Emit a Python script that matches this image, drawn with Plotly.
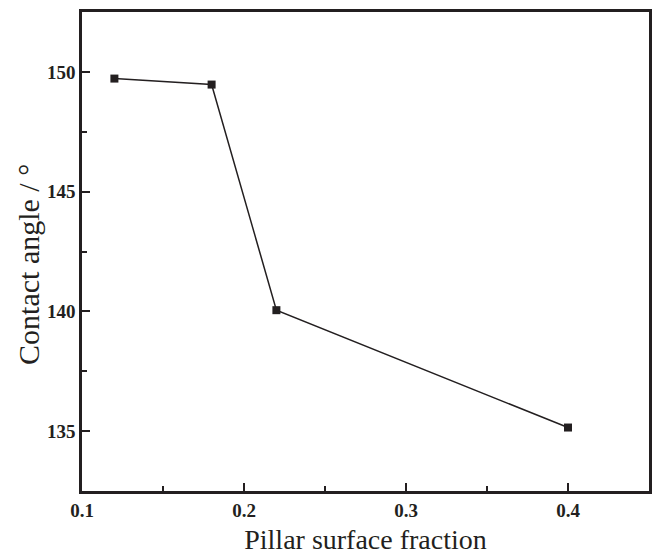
import plotly.graph_objects as go

fraction = [0.12, 0.18, 0.22, 0.40]
contact_angle = [149.72, 149.47, 140.05, 135.15]
x_ticks = [0.1, 0.2, 0.3, 0.4]
y_ticks = [135, 140, 145, 150]

ink = "#231f20"
font_family = "Times New Roman, Liberation Serif, serif"

fig = go.Figure()
fig.add_trace(go.Scatter(
    x=fraction, y=contact_angle, mode="lines+markers",
    line=dict(color=ink, width=1.5),
    marker=dict(symbol="square", size=8, color=ink),
    showlegend=False,
))

fig.update_layout(
    width=653, height=556,
    margin=dict(l=82, r=1, t=12, b=65),
    plot_bgcolor="white", paper_bgcolor="white",
    font=dict(family=font_family, color=ink),
)

fig.update_xaxes(
    range=[0.1, 0.45], tickvals=x_ticks, ticktext=[f"{v:.1f}" for v in x_ticks],
    showline=True, linecolor=ink, linewidth=2.5, mirror=True,
    ticks="inside", ticklen=8, tickwidth=2, tickcolor=ink,
    minor=dict(ticks="inside", ticklen=5, tickwidth=2, tickcolor=ink, dtick=0.05, tick0=0.1, showgrid=False),
    showgrid=False, zeroline=False,
    tickfont=dict(size=19, family=font_family, weight="bold", color=ink),
    title=dict(text="Pillar surface fraction", font=dict(size=28, family=font_family, color=ink), standoff=10),
)
fig.update_yaxes(
    range=[132.5, 152.5], tickvals=y_ticks,
    showline=True, linecolor=ink, linewidth=2.5, mirror=True,
    ticks="inside", ticklen=8, tickwidth=2, tickcolor=ink,
    minor=dict(ticks="inside", ticklen=5, tickwidth=2, tickcolor=ink, dtick=2.5, tick0=135, showgrid=False),
    showgrid=False, zeroline=False,
    tickfont=dict(size=19, family=font_family, weight="bold", color=ink),
)
fig.add_annotation(
    text="Contact angle / °", textangle=-90,
    xref="paper", yref="paper", x=0, y=0.472, xanchor="center", yanchor="middle",
    xshift=-53, showarrow=False,
    font=dict(size=30, family=font_family, color=ink),
)

fig.write_html("out.html")
